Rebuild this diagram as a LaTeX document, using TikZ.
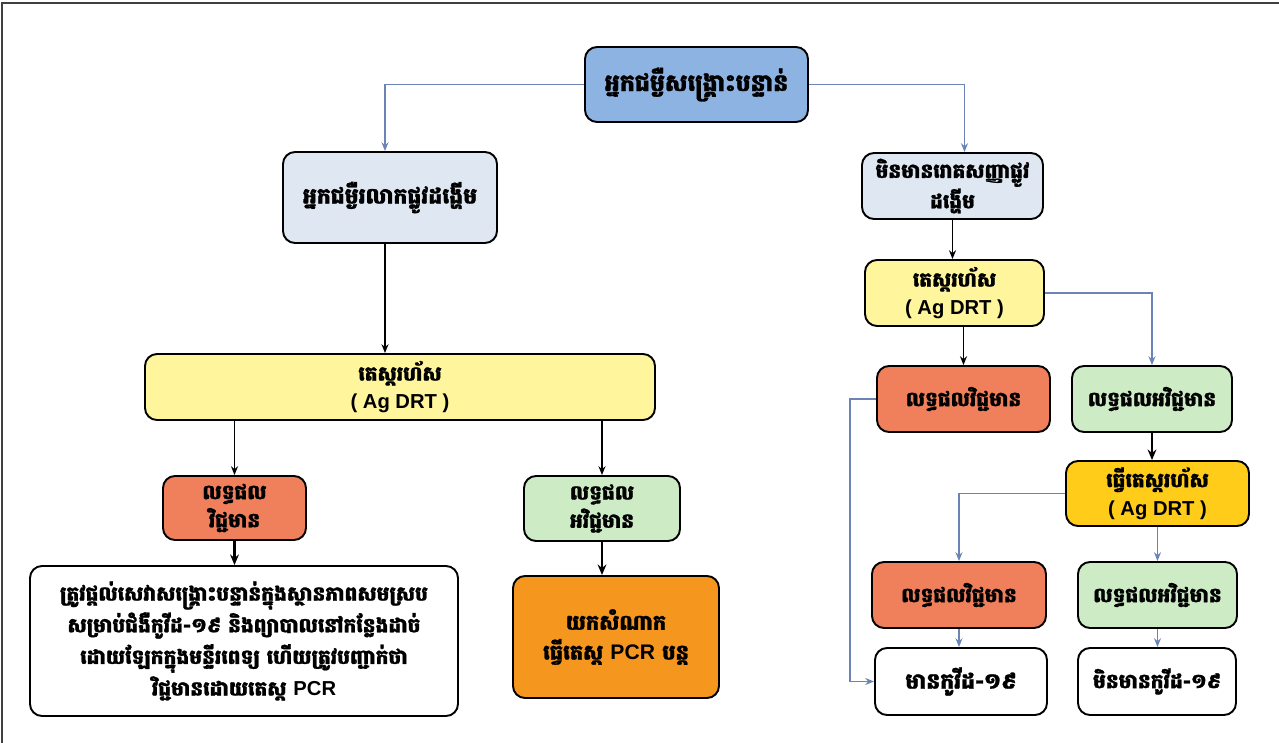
\documentclass[tikz,border=0pt]{standalone}
\usepackage{fontspec}
\setmainfont{Liberation Sans}
\newfontfamily\khmer[Script=Khmer, BoldFeatures={FakeBold=1.2}]{Battambang}
\newfontfamily\latfont{Liberation Sans}
\newcommand{\lat}[1]{{\latfont\bfseries #1}}
\definecolor{topblue}{HTML}{8DB3E2}
\definecolor{paleblue}{HTML}{DFE7F3}
\definecolor{paleyellow}{HTML}{FFF59C}
\definecolor{coral}{HTML}{F0805C}
\definecolor{palegreen}{HTML}{CDEBC5}
\definecolor{darkorange}{HTML}{F5961F}
\definecolor{gold}{HTML}{FFCC1A}
\definecolor{linkblue}{HTML}{6A84B6}
\tikzset{
  box/.style 2 args={draw=black, line width=1.1pt, rounded corners=0.24cm, align=center,
    inner sep=0pt, minimum width=#1*0.02cm, minimum height=#2*0.02cm,
    font=\khmer\bfseries\fontsize{11.5}{16}\selectfont},
  blu/.style={draw=linkblue, line width=0.7pt, -{Stealth[length=5pt,width=4pt]}},
  blk/.style={draw=black, line width=0.8pt, -{Stealth[length=5pt,width=4pt]}},
  blkthick/.style={draw=black, line width=1.4pt, -{Stealth[length=6pt,width=5pt]}}
}
\usetikzlibrary{arrows.meta}
\begin{document}
\begin{tikzpicture}[x=0.02cm,y=-0.02cm]
\useasboundingbox (0,0) rectangle (1279,743);
\draw[line width=1.2pt, black!75] (1279,3) -- (2,3) -- (2,743);

\node[box={223}{75}, fill=topblue, font=\khmer\bfseries\fontsize{13.5}{16}\selectfont] (top) at (696.5,84.5) {អ្នកជម្ងឺសង្គ្រោះបន្ទាន់};
\node[box={214}{91}, fill=paleblue, font=\khmer\bfseries\fontsize{12.5}{15}\selectfont] (resp) at (390,197.5) {អ្នកជម្ងឺរលាកផ្លូវដង្ហើម};
\node[box={181}{66}, fill=paleblue] (nosym) at (952.5,186) {មិនមានរោគសញ្ញាផ្លូវ\\ដង្ហើម};

\node[box={510}{66}, fill=paleyellow] (ltest) at (400,387) {តេស្តរហ័ស\\\lat{( Ag DRT )}};
\node[box={143}{64}, fill=coral] (lpos) at (234.5,508) {លទ្ធផល\\វិជ្ជមាន};
\node[box={156}{65}, fill=palegreen] (lneg) at (602,508.5) {លទ្ធផល\\អវិជ្ជមាន};
\node[box={428}{150}, fill=white, font=\khmer\bfseries\fontsize{11.5}{18}\selectfont] (care) at (244,641)
  {ត្រូវផ្តល់សេវាសង្គ្រោះបន្ទាន់ក្នុងស្ថានភាពសមស្រប\\សម្រាប់ជំងឺកូវីដ-១៩ និងព្យាបាលនៅកន្លែងដាច់\\ដោយឡែកក្នុងមន្ទីរពេទ្យ ហើយត្រូវបញ្ជាក់ថា\\វិជ្ជមានដោយតេស្ត \lat{PCR}};
\node[box={206}{122}, fill=darkorange, font=\khmer\bfseries\fontsize{12}{17}\selectfont] (pcr) at (616,637) {យកសំណាក\\ធ្វើតេស្ត \lat{PCR} បន្ត};

\node[box={179}{66}, fill=paleyellow] (rtest) at (954.5,293) {តេស្តរហ័ស\\\lat{( Ag DRT )}};
\node[box={173}{66}, fill=coral] (rpos) at (963.5,399) {លទ្ធផលវិជ្ជមាន};
\node[box={160}{66}, fill=palegreen] (rneg) at (1152,399) {លទ្ធផលអវិជ្ជមាន};
\node[box={183}{65}, fill=gold] (retest) at (1157.5,493.5) {ធ្វើតេស្តរហ័ស\\\lat{( Ag DRT )}};
\node[box={174}{66}, fill=coral] (rpos2) at (959,595) {លទ្ធផលវិជ្ជមាន};
\node[box={159}{66}, fill=palegreen] (rneg2) at (1157.5,595) {លទ្ធផលអវិជ្ជមាន};
\node[box={172}{67}, fill=white, font=\khmer\bfseries\fontsize{12.5}{15}\selectfont] (yes) at (961,681.5) {មានកូវីដ-១៩};
\node[box={158}{67}, fill=white] (no) at (1157,681.5) {មិនមានកូវីដ-១៩};

\draw[blu] (top.west) -| ([xshift=-0.1cm]resp.north);
\draw[blu] (top.east) -| ([xshift=0.24cm]nosym.north);
\draw[blk] ([xshift=-0.1cm]resp.south) -- ([xshift=-0.1cm]resp.south |- ltest.north);
\draw[blk] (nosym.south) -- (nosym.south |- rtest.north);
\draw[blk] (lpos.north |- ltest.south) -- (lpos.north);
\draw[blk] (lneg.north |- ltest.south) -- (lneg.north);
\draw[blkthick] (lpos.south) -- (lpos.south |- care.north);
\draw[blkthick] (lneg.south) -- (lneg.south |- pcr.north);
\draw[blk] (rpos.north |- rtest.south) -- (rpos.north);
\draw[blu] (rtest.east) -| (rneg.north);
\draw[blkthick] (rneg.south) -- (rneg.south |- retest.north);
\draw[blu] (retest.west) -| (rpos2.north);
\draw[blu] (retest.south) -- (retest.south |- rneg2.north);
\draw[blu] (rpos.west) -- ++(-26,0) |- (yes.west);
\draw[blu] (rpos2.south) -- (rpos2.south |- yes.north);
\draw[blu] (rneg2.south) -- (rneg2.south |- no.north);
\end{tikzpicture}
\end{document}
